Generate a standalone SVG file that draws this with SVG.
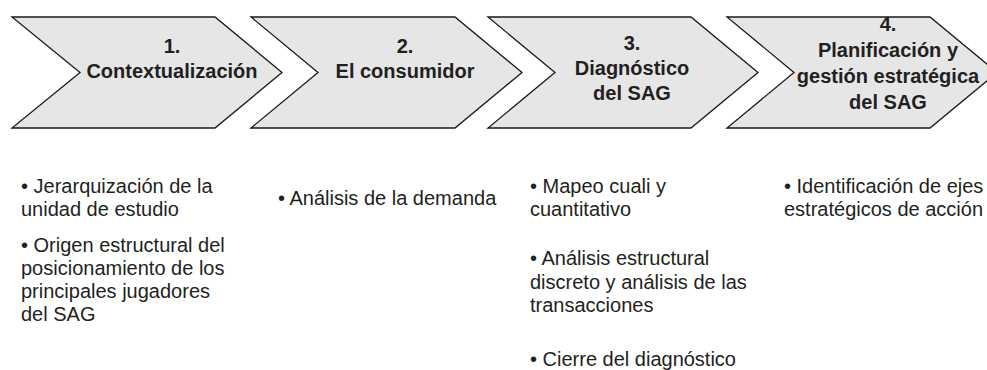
<svg xmlns="http://www.w3.org/2000/svg" width="987" height="370" viewBox="0 0 987 370">
<style>
.chev{fill:#e6e6e6;stroke:#1a1a1a;stroke-width:1.3;stroke-linejoin:miter}
.t{font-family:"Liberation Sans",Arial,sans-serif;font-weight:bold;font-size:20px;fill:#231f20;text-anchor:middle}
.b{font-family:"Liberation Sans",Arial,sans-serif;font-size:20px;fill:#231f20}
</style>
<rect width="987" height="370" fill="#ffffff"/>
<g id="step1">
<polygon class="chev" points="12,17 215,17 282,72.5 215,128 12,128 80,72.5"/>
<text class="t" x="172" y="53">1.</text>
<text class="t" x="172" y="78">Contextualización</text>
</g>
<g id="step2">
<polygon class="chev" points="251,17 455,17 522,72.5 455,128 251,128 318,72.5"/>
<text class="t" x="405" y="53">2.</text>
<text class="t" x="405" y="78">El consumidor</text>
</g>
<g id="step3">
<polygon class="chev" points="488,17 691,17 758,72.5 691,128 488,128 555,72.5"/>
<text class="t" x="632" y="50">3.</text>
<text class="t" x="632" y="75">Diagnóstico</text>
<text class="t" x="632" y="100">del SAG</text>
</g>
<g id="step4">
<polygon class="chev" points="727,17 930,17 997,72.5 930,128 727,128 794,72.5"/>
<text class="t" x="888" y="31">4.</text>
<text class="t" x="888" y="57">Planificación y</text>
<text class="t" x="888" y="83">gestión estratégica</text>
<text class="t" x="888" y="109">del SAG</text>
</g>
<g id="connectors"></g>
<g id="list1">
<text class="b" x="21" y="193">• Jerarquización de la</text>
<text class="b" x="21" y="216">unidad de estudio</text>
<text class="b" x="21" y="252">• Origen estructural del</text>
<text class="b" x="21" y="275">posicionamiento de los</text>
<text class="b" x="21" y="298">principales jugadores</text>
<text class="b" x="21" y="321">del SAG</text>
</g>
<g id="list2">
<text class="b" x="278" y="205">• Análisis de la demanda</text>
</g>
<g id="list3">
<text class="b" x="530" y="193">• Mapeo cuali y</text>
<text class="b" x="530" y="216">cuantitativo</text>
<text class="b" x="530" y="265">• Análisis estructural</text>
<text class="b" x="530" y="289">discreto y análisis de las</text>
<text class="b" x="530" y="312">transacciones</text>
<text class="b" x="530" y="366">• Cierre del diagnóstico</text>
</g>
<g id="list4">
<text class="b" x="784" y="193">• Identificación de ejes</text>
<text class="b" x="784" y="216">estratégicos de acción</text>
</g>
</svg>
